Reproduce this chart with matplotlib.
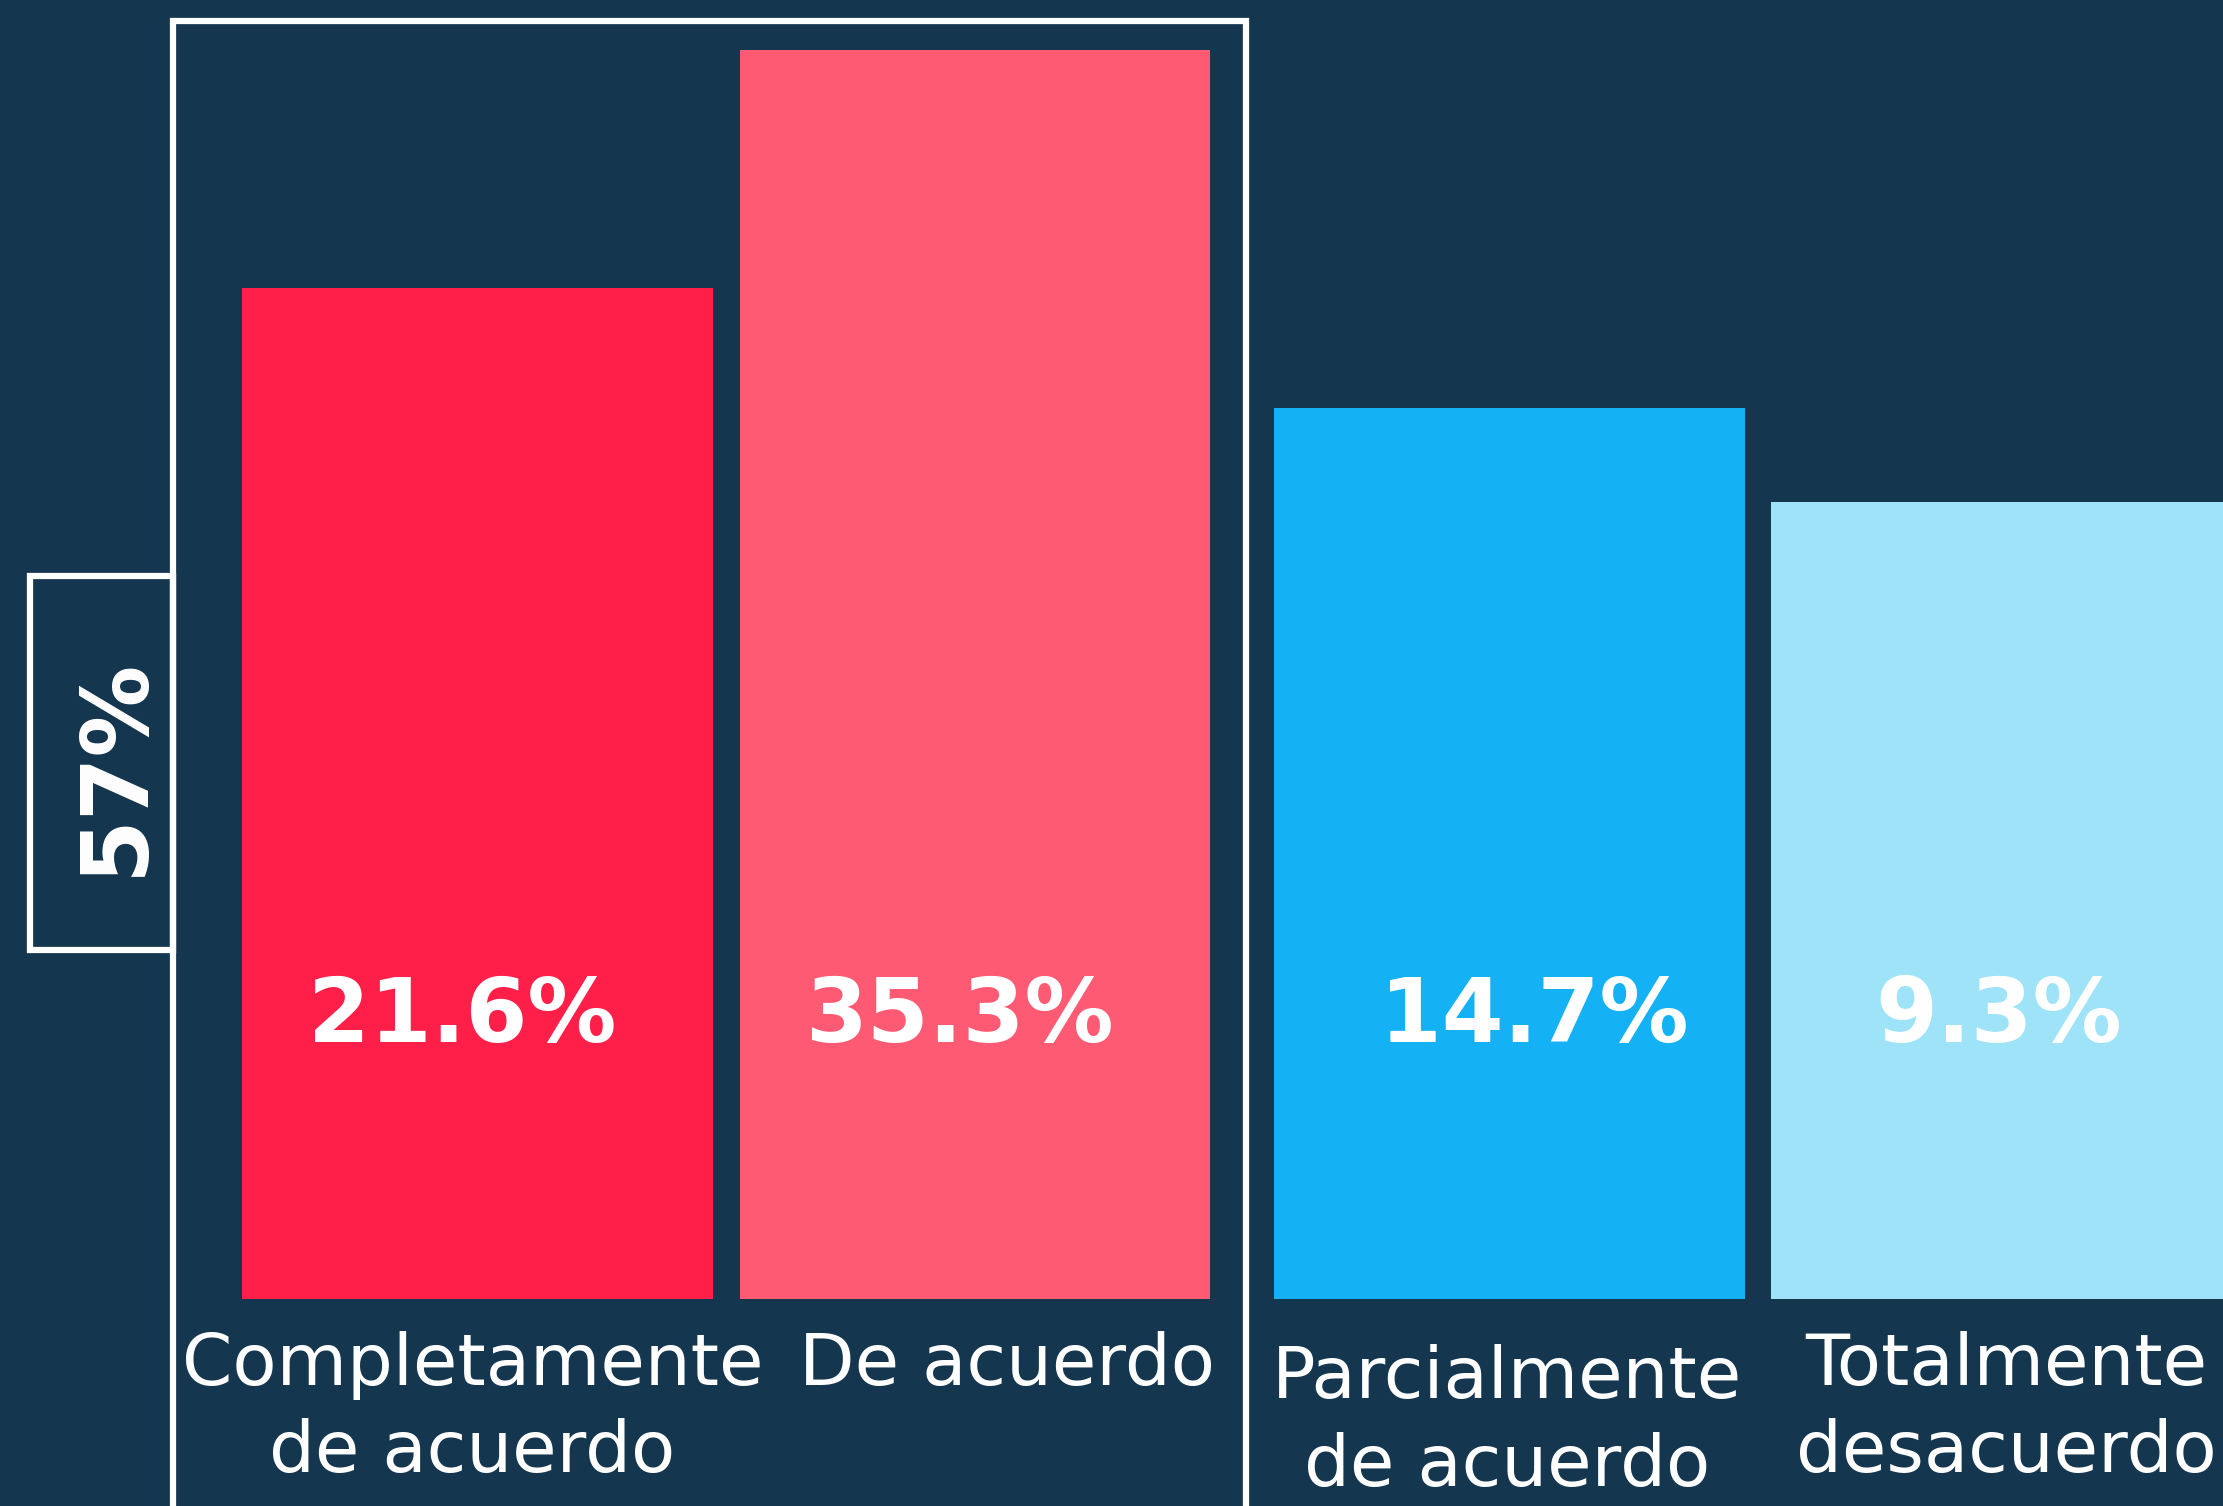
import matplotlib.pyplot as plt
from matplotlib.patches import Rectangle
import numpy as np

# data
categories = ['Completamente\nde acuerdo', 'De acuerdo', 'Parcialmente\nde acuerdo', 'Totalmente\ndesacuerdo']
values = [21.6, 35.3, 14.7, 9.3]
group_total = '57%'
colors = ['#FF1F48', '#FF5A73', '#15B1F5', '#9EE3F8']
bg = '#14364F'

positions = np.array([0, 1, 2.075, 3.075])
base = -36.6

fig = plt.figure(figsize=(22.23, 15.06), dpi=100, facecolor=bg)
ax = fig.add_axes([0, 0, 1, 1])
ax.set_facecolor(bg)

heights = [v - base for v in values]
ax.bar(positions, heights, bottom=base, width=0.946, color=colors)

ax.set_xlim(-0.96, 3.51)
ax.set_ylim(-48.5, 38.2)
ax.axis('off')

# value labels inside bars
val_dx = [-0.03, -0.03, 0.05, -0.015]
for x, dx, v in zip(positions, val_dx, values):
    ax.text(x + dx, -20.4, f'{v}%', color='white', fontsize=64, fontweight='bold',
            family='DejaVu Sans', ha='center', va='center')

# category labels
label_dx = [-0.01, 0.065, -0.005, 0.0]
label_y = [-38.4, -38.4, -39.2, -38.4]
for x, dx, y, c in zip(positions, label_dx, label_y, categories):
    ax.text(x + dx, y, c, color='white', fontsize=52, family='DejaVu Sans', ha='center', va='top',
            linespacing=1.35)

# frame around the "agree" group
lw = 4.5
ax.plot([173 / 2223, 173 / 2223, 1246 / 2223, 1246 / 2223], [0, 1 - 21 / 1506, 1 - 21 / 1506, 0],
        transform=ax.transAxes, color='white', lw=lw, solid_joinstyle='miter', clip_on=False)
ax.add_patch(Rectangle((30 / 2223, 1 - 950 / 1506), (173 - 30) / 2223, (950 - 576) / 1506,
                       transform=ax.transAxes, fill=False, edgecolor='white', lw=lw))
ax.text(116 / 2223, 1 - 766 / 1506, group_total, transform=ax.transAxes, rotation=90,
        color='white', fontsize=66, fontweight='bold', family='DejaVu Sans', ha='center', va='center')

fig.savefig('out.png', dpi=100, facecolor=bg)
